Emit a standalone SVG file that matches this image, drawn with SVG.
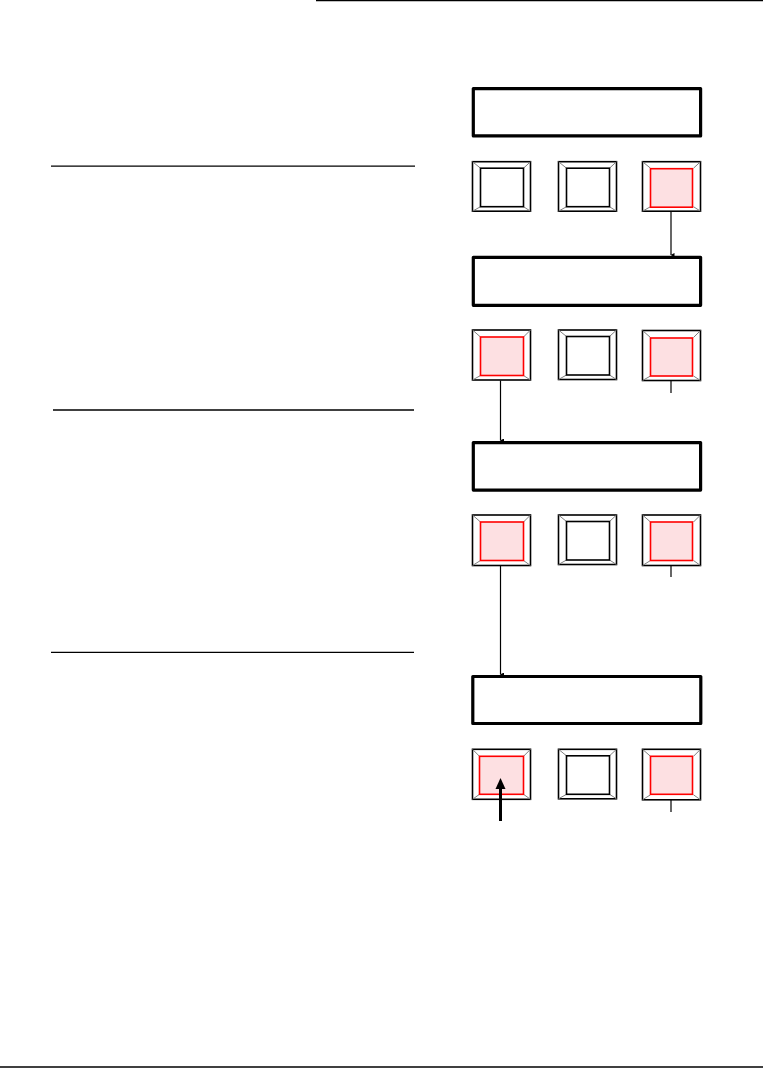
<svg xmlns="http://www.w3.org/2000/svg" width="763" height="1068" viewBox="0 0 763 1068">
<style>
.rule{stroke:#000;stroke-width:1.3;fill:none}
.disp{fill:#fff;stroke:#000;stroke-width:3.2;stroke-linejoin:round}
.outer{fill:#fff;stroke:#000;stroke-width:1.6}
.inner{fill:#fff;stroke:#000;stroke-width:1.6}
.on .inner{fill:#fde0e2;stroke:#f00}
.diag{stroke:#808080;stroke-width:1}
.conn{stroke:#000;stroke-width:1.2;fill:none}
</style>
<defs>
<marker id="ah" markerWidth="4" markerHeight="4" refX="2" refY="3.5" orient="auto" markerUnits="userSpaceOnUse" viewBox="0 0 4 4">
<path d="M0,0 L4,0 L2,4 z" fill="#000"/>
</marker>
<g id="btn">
<rect class="outer" x="0" y="0" width="58" height="49.5"/>
<line class="diag" x1="0" y1="0" x2="8" y2="6.5"/>
<line class="diag" x1="58" y1="0" x2="51" y2="6.5"/>
<line class="diag" x1="0" y1="49.5" x2="8" y2="45"/>
<line class="diag" x1="58" y1="49.5" x2="51" y2="45"/>
<rect class="inner" x="8" y="6.5" width="43" height="38.5"/>
</g>
</defs>
<rect width="763" height="1068" fill="#fff"/>
<g id="rules">
<line class="rule" x1="316" y1="0.6" x2="763" y2="0.6"/>
<line class="rule" x1="51" y1="166.2" x2="415" y2="166.2"/>
<line class="rule" x1="53" y1="410" x2="414" y2="410"/>
<line class="rule" x1="51" y1="652.3" x2="414" y2="652.3"/>
<line class="rule" x1="0" y1="1067" x2="763" y2="1067"/>
</g>
<g id="row1">
<rect id="display1" class="disp" x="473.3" y="88.6" width="227.3" height="47.3"/>
<g id="b1-1" transform="translate(472.5,161.7)"><use href="#btn"/></g>
<g id="b1-2" transform="translate(558.5,161.7)"><use href="#btn"/></g>
<g id="b1-3" class="on" transform="translate(642.5,161.7)"><rect class="outer" x="0" y="0" width="58" height="49.5"/><line class="diag" x1="0" y1="0" x2="8" y2="6.5"/><line class="diag" x1="58" y1="0" x2="51" y2="6.5"/><line class="diag" x1="0" y1="49.5" x2="8" y2="45"/><line class="diag" x1="58" y1="49.5" x2="51" y2="45"/><rect class="inner" x="8" y="7" width="42" height="38.5"/></g>
</g>
<g id="row2">
<rect id="display2" class="disp" x="473.3" y="257.3" width="227.3" height="48"/>
<g id="b2-1" class="on" transform="translate(472.5,330)"><rect class="outer" x="0" y="0" width="58" height="50"/><line class="diag" x1="0" y1="0" x2="8" y2="7"/><line class="diag" x1="58" y1="0" x2="51" y2="7"/><line class="diag" x1="0" y1="50" x2="8" y2="45.5"/><line class="diag" x1="58" y1="50" x2="51" y2="45.5"/><rect class="inner" x="8" y="7" width="43" height="38.5"/></g>
<g id="b2-2" transform="translate(558.5,330)"><use href="#btn"/></g>
<g id="b2-3" class="on" transform="translate(642.5,330.5)"><rect class="outer" x="0" y="0" width="58" height="50"/><line class="diag" x1="0" y1="0" x2="8" y2="7"/><line class="diag" x1="58" y1="0" x2="51" y2="7"/><line class="diag" x1="0" y1="50" x2="8" y2="45.5"/><line class="diag" x1="58" y1="50" x2="51" y2="45.5"/><rect class="inner" x="8" y="7.5" width="42" height="38"/></g>
</g>
<g id="row3">
<rect id="display3" class="disp" x="473.3" y="442.6" width="227.3" height="47.5"/>
<g id="b3-1" class="on" transform="translate(472.5,515)"><rect class="outer" x="0" y="0" width="58" height="50.5"/><line class="diag" x1="0" y1="0" x2="8" y2="7"/><line class="diag" x1="58" y1="0" x2="51" y2="7"/><line class="diag" x1="0" y1="50.5" x2="8" y2="45.5"/><line class="diag" x1="58" y1="50.5" x2="51" y2="45.5"/><rect class="inner" x="8" y="7" width="43" height="38.5"/></g>
<g id="b3-2" transform="translate(558.5,515)"><use href="#btn"/></g>
<g id="b3-3" class="on" transform="translate(642.5,515)"><rect class="outer" x="0" y="0" width="58" height="50.5"/><line class="diag" x1="0" y1="0" x2="8" y2="7"/><line class="diag" x1="58" y1="0" x2="51" y2="7"/><line class="diag" x1="0" y1="50.5" x2="8" y2="45.5"/><line class="diag" x1="58" y1="50.5" x2="51" y2="45.5"/><rect class="inner" x="8" y="7" width="42" height="38.5"/></g>
</g>
<g id="row4">
<rect id="display4" class="disp" x="472.8" y="676.5" width="228" height="47"/>
<g id="b4-1" class="on" transform="translate(472.5,749.3)"><rect class="outer" x="0" y="0" width="58" height="50"/><line class="diag" x1="0" y1="0" x2="7" y2="7"/><line class="diag" x1="58" y1="0" x2="51" y2="7"/><line class="diag" x1="0" y1="50" x2="7" y2="45"/><line class="diag" x1="58" y1="50" x2="51" y2="45"/><rect class="inner" x="7" y="7" width="44" height="38"/></g>
<g id="b4-2" transform="translate(558.5,749.3)"><use href="#btn"/></g>
<g id="b4-3" class="on" transform="translate(642.5,749.3)"><rect class="outer" x="0" y="0" width="58" height="50.5"/><line class="diag" x1="0" y1="0" x2="8" y2="7"/><line class="diag" x1="58" y1="0" x2="51" y2="7"/><line class="diag" x1="0" y1="50.5" x2="8" y2="45.5"/><line class="diag" x1="58" y1="50.5" x2="51" y2="45.5"/><rect class="inner" x="8" y="7" width="42" height="38"/></g>
</g>
<g id="connectors">
<line class="conn" x1="671" y1="211" x2="671" y2="255" marker-end="url(#ah)"/>
<line class="conn" x1="500.5" y1="380.5" x2="500.5" y2="440.5" marker-end="url(#ah)"/>
<line class="conn" x1="671" y1="381" x2="671" y2="393"/>
<line class="conn" x1="500.5" y1="566" x2="500.5" y2="674.5" marker-end="url(#ah)"/>
<line class="conn" x1="671" y1="566" x2="671" y2="577"/>
<line class="conn" x1="671" y1="800" x2="671" y2="812"/>
<line x1="500.5" y1="821" x2="500.5" y2="787" stroke="#000" stroke-width="3"/>
<path d="M500.5,778 L505.5,789 L495.5,789 z" fill="#000"/>
</g>
</svg>
